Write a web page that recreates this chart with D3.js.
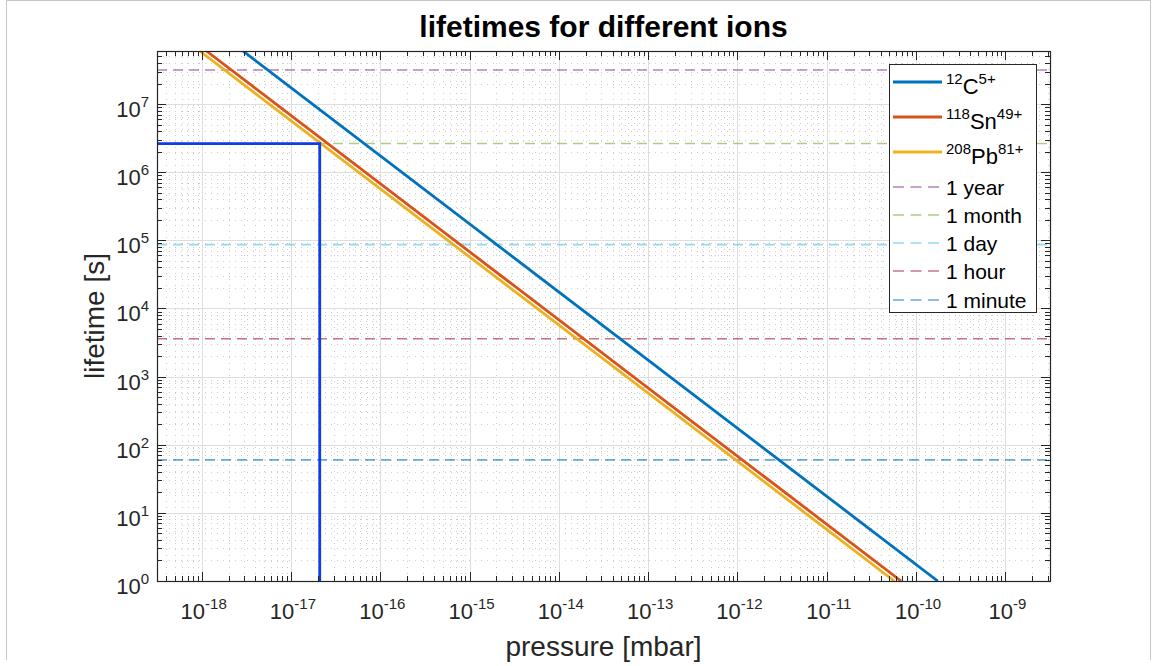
<!DOCTYPE html>
<html>
<head>
<meta charset="utf-8">
<script src="https://cdn.jsdelivr.net/npm/d3@7"></script>
<style>
  body { margin: 0; background: #fff; }
  svg { font-family: "Liberation Sans", Arial, Helvetica, sans-serif; }
</style>
</head>
<body>
<script>
const WIDTH = 1156
const HEIGHT = 666

// plot area
const LEFT = 157, RIGHT = 1050, TOP = 51, BOTTOM = 581

// axes limits and ticks
const xLimits = [Math.pow(10, -18.5), Math.pow(10, -8.5)]
const yLimits = [1, 6e7]
const xExponents = [-18, -17, -16, -15, -14, -13, -12, -11, -10, -9]
const yExponents = [0, 1, 2, 3, 4, 5, 6, 7]

// ions : mass number, element, charge, colour
const ionMass = ["12", "118", "208"]
const ionElement = ["C", "Sn", "Pb"]
const ionCharge = ["5+", "49+", "81+"]
const ionColors = ["#0072BD", "#D95319", "#EDB120"]
// each line read at the top (lifetime 6e7 s) and at the bottom (1 s) of the plot
const ionPressure = [[2.9e-18, 1.75e-10], [1.13e-18, 6.8e-11], [9.5e-19, 5.7e-11]]
const ionLifetime = [[6e7, 1], [6e7, 1], [6e7, 1]]

// reference lifetimes
const refNames = ["1 year", "1 month", "1 day", "1 hour", "1 minute"]
const refSeconds = [31557600, 2629800, 86400, 3600, 60]
const refColors = ["#7E2F8E", "#77AC30", "#4DBEEE", "#A2142F", "#0072BD"]

// marker box (Pb reaching one month)
const markPressure = 2.1e-17
const markLifetime = 2629800

const svg = d3.select("body")
    .append("svg")
    .attr("width", WIDTH)
    .attr("height", HEIGHT)

// thin figure frame
svg.append("path")
    .attr("d", "M6.5,660 V0.5 H1150.5 V660")
    .attr("fill", "none")
    .attr("stroke", "#c6c6c6")

const x = d3.scaleLog().domain(xLimits).range([LEFT, RIGHT])
const y = d3.scaleLog().domain(yLimits).range([BOTTOM, TOP])

svg.append("clipPath").attr("id", "clip")
    .append("rect")
    .attr("x", LEFT).attr("y", TOP)
    .attr("width", RIGHT - LEFT).attr("height", BOTTOM - TOP)

// minor / major values
const xMinor = [], yMinor = []
for (let e = -19; e <= -9; e++) for (let m = 2; m <= 9; m++) {
    const v = m * Math.pow(10, e)
    if (v > xLimits[0] && v < xLimits[1]) xMinor.push(v)
}
for (let e = 0; e <= 7; e++) for (let m = 2; m <= 9; m++) {
    const v = m * Math.pow(10, e)
    if (v > yLimits[0] && v < yLimits[1]) yMinor.push(v)
}
const xMajor = xExponents.map(e => Math.pow(10, e))
const yMajor = yExponents.map(e => Math.pow(10, e))

const grid = svg.append("g")

// minor grid, dotted
grid.selectAll(".xminor").data(xMinor).enter().append("line")
    .attr("x1", d => Math.round(x(d)) + 0.5).attr("x2", d => Math.round(x(d)) + 0.5)
    .attr("y1", TOP).attr("y2", BOTTOM)
    .attr("stroke", "#cccccc").attr("stroke-dasharray", "1,5")
grid.selectAll(".yminor").data(yMinor).enter().append("line")
    .attr("y1", d => Math.round(y(d)) + 0.5).attr("y2", d => Math.round(y(d)) + 0.5)
    .attr("x1", LEFT).attr("x2", RIGHT)
    .attr("stroke", "#cccccc").attr("stroke-dasharray", "1,5")

// major grid
grid.selectAll(".xmajor").data(xMajor).enter().append("line")
    .attr("x1", d => Math.round(x(d)) + 0.5).attr("x2", d => Math.round(x(d)) + 0.5)
    .attr("y1", TOP).attr("y2", BOTTOM)
    .attr("stroke", "#dedede")
grid.selectAll(".ymajor").data(yMajor.filter(d => d > 1)).enter().append("line")
    .attr("y1", d => Math.round(y(d)) + 0.5).attr("y2", d => Math.round(y(d)) + 0.5)
    .attr("x1", LEFT).attr("x2", RIGHT)
    .attr("stroke", "#dedede")

const plot = svg.append("g").attr("clip-path", "url(#clip)")
const line = d3.line().x(d => x(d[0])).y(d => y(d[1]))

// reference dashed lines
plot.selectAll(".ref").data(refSeconds).enter().append("line")
    .attr("x1", LEFT).attr("x2", RIGHT)
    .attr("y1", d => y(d)).attr("y2", d => y(d))
    .attr("stroke", (d, i) => refColors[i])
    .attr("stroke-opacity", 0.6)
    .attr("stroke-width", 1.6)
    .attr("stroke-dasharray", "10,6")

// ion lifetime lines
plot.selectAll(".ion").data(ionPressure).enter().append("path")
    .attr("d", (d, i) => line(d.map((p, j) => [p, ionLifetime[i][j]])))
    .attr("fill", "none")
    .attr("stroke", (d, i) => ionColors[i])
    .attr("stroke-width", 2.8)

// marker box
plot.append("path")
    .attr("d", line([[xLimits[0], markLifetime], [markPressure, markLifetime], [markPressure, yLimits[0]]]))
    .attr("fill", "none")
    .attr("stroke", "#0f3ce6")
    .attr("stroke-width", 2.8)

// axes box and ticks
const axes = svg.append("g").attr("stroke", "#262626")
axes.append("rect")
    .attr("x", LEFT + 0.5).attr("y", TOP + 0.5)
    .attr("width", RIGHT - LEFT).attr("height", BOTTOM - TOP)
    .attr("fill", "none").attr("stroke-width", 1.2)

function xTicks(vals, len) {
    vals.forEach(v => {
        const px = Math.round(x(v)) + 0.5
        axes.append("line").attr("x1", px).attr("x2", px).attr("y1", BOTTOM).attr("y2", BOTTOM - len)
        axes.append("line").attr("x1", px).attr("x2", px).attr("y1", TOP).attr("y2", TOP + len)
    })
}
function yTicks(vals, len) {
    vals.forEach(v => {
        const py = Math.round(y(v)) + 0.5
        axes.append("line").attr("y1", py).attr("y2", py).attr("x1", LEFT).attr("x2", LEFT + len)
        axes.append("line").attr("y1", py).attr("y2", py).attr("x1", RIGHT).attr("x2", RIGHT - len)
    })
}
xTicks(xMajor, 9); xTicks(xMinor, 5)
yTicks(yMajor, 9); yTicks(yMinor, 5)

// tick labels
const xl = svg.selectAll(".xlab").data(xExponents).enter().append("text")
    .attr("x", d => x(Math.pow(10, d)) + 2)
    .attr("y", 619)
    .attr("text-anchor", "middle")
    .attr("fill", "#262626")
    .attr("font-size", 22)
xl.append("tspan").text("10")
xl.append("tspan").attr("dy", -10).attr("font-size", 15).text(d => d)

const yl = svg.selectAll(".ylab").data(yExponents).enter().append("text")
    .attr("x", 149)
    .attr("y", d => y(Math.pow(10, d)) + 13)
    .attr("text-anchor", "end")
    .attr("fill", "#262626")
    .attr("font-size", 22)
yl.append("tspan").text("10")
yl.append("tspan").attr("dy", -10).attr("font-size", 15).text(d => d)

// titles
svg.append("text")
    .attr("x", (LEFT + RIGHT) / 2).attr("y", 37)
    .attr("text-anchor", "middle")
    .attr("font-size", 30).attr("font-weight", "bold")
    .attr("fill", "#000")
    .text("lifetimes for different ions")

svg.append("text")
    .attr("x", (LEFT + RIGHT) / 2).attr("y", 656)
    .attr("text-anchor", "middle")
    .attr("font-size", 28)
    .attr("fill", "#262626")
    .text("pressure [mbar]")

svg.append("text")
    .attr("transform", `translate(104,${(TOP + BOTTOM) / 2}) rotate(-90)`)
    .attr("text-anchor", "middle")
    .attr("font-size", 28)
    .attr("fill", "#262626")
    .text("lifetime [s]")

// legend
const legend = svg.append("g")
legend.append("rect")
    .attr("x", 889.5).attr("y", 64.5)
    .attr("width", 147).attr("height", 248)
    .attr("fill", "#fff").attr("stroke", "#262626")

const ionRowsY = [82, 117, 152]
const refRowsY = [187, 215, 243, 271, 300]

ionMass.forEach((m, i) => {
    legend.append("line")
        .attr("x1", 893).attr("x2", 942)
        .attr("y1", ionRowsY[i]).attr("y2", ionRowsY[i])
        .attr("stroke", ionColors[i]).attr("stroke-width", 2.8)
    const t = legend.append("text")
        .attr("x", 946).attr("y", ionRowsY[i] + 12)
        .attr("font-size", 22).attr("fill", "#000")
    t.append("tspan").attr("dy", -10).attr("font-size", 15).text(m)
    t.append("tspan").attr("dy", 10).text(ionElement[i])
    t.append("tspan").attr("dy", -10).attr("font-size", 15).text(ionCharge[i])
})

refNames.forEach((n, i) => {
    legend.append("line")
        .attr("x1", 893).attr("x2", 942)
        .attr("y1", refRowsY[i]).attr("y2", refRowsY[i])
        .attr("stroke", refColors[i]).attr("stroke-opacity", 0.6)
        .attr("stroke-width", 1.6).attr("stroke-dasharray", "11,6.5")
    legend.append("text")
        .attr("x", 946).attr("y", refRowsY[i] + 7.5)
        .attr("font-size", 21).attr("fill", "#000")
        .text(n)
})
</script>
</body>
</html>
